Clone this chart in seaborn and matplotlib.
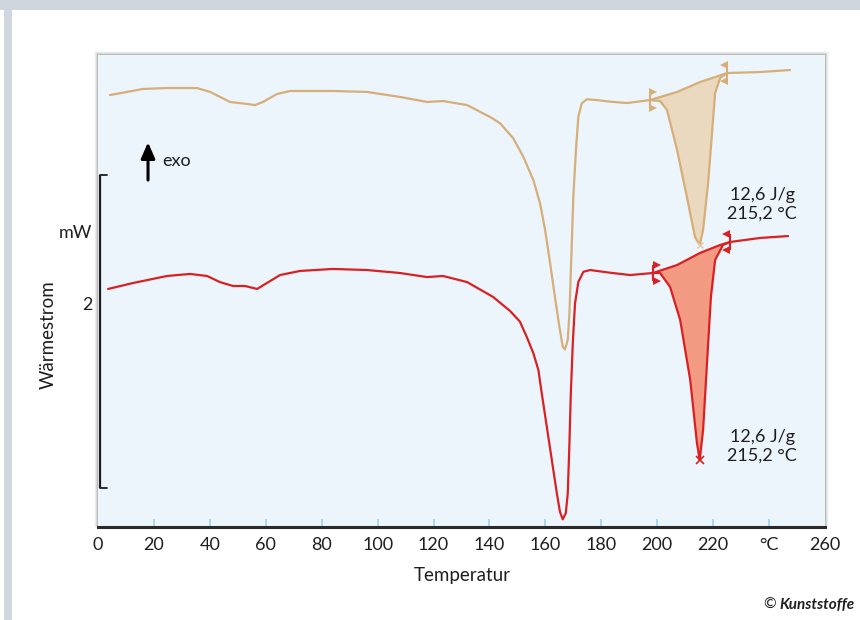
import numpy as np
import pandas as pd
import matplotlib
matplotlib.use("Agg")
import matplotlib.pyplot as plt
import matplotlib.transforms as mtransforms
from matplotlib.patches import Rectangle
import seaborn as sns

# ---------------- data ----------------
temp_tan = [4.3, 16.1, 24.7, 35.4, 40.1, 47.2, 53.3, 56.2, 59.0, 64.0, 68.7, 84.0,
            96.2, 108.0, 117.7, 123.4, 132.0, 140.2, 143.8, 148.5, 152.1, 155.7,
            158.1, 159.9, 161.7, 163.4, 165.0, 166.2, 167.0, 168.0, 168.6, 169.2,
            170.0, 171.0, 171.8, 173.0, 174.8, 178.4, 183.1, 189.2,
            197.4, 201.0, 203.5, 207.1, 210.6, 213.5, 215.2, 216.4, 218.2, 219.6,
            220.7, 222.5, 225.0, 236.8, 247.5]
flow_tan = [2.760, 2.799, 2.805, 2.805, 2.780, 2.716, 2.703, 2.696, 2.716, 2.767,
            2.786, 2.786, 2.780, 2.748, 2.716, 2.722, 2.696, 2.620, 2.580, 2.484,
            2.366, 2.217, 2.068, 1.898, 1.685, 1.472, 1.280, 1.152, 1.135, 1.195,
            1.366, 1.685, 2.111, 2.430, 2.622, 2.707, 2.733, 2.728, 2.718, 2.709,
            2.728, 2.722, 2.665, 2.409, 2.109, 1.853, 1.802, 1.898,
            2.198, 2.518, 2.773, 2.869, 2.901, 2.907, 2.920]

temp_red = [3.6, 12.5, 24.7, 32.9, 39.0, 43.6, 48.3, 52.6, 56.9, 60.4, 65.1, 72.2,
            84.0, 96.2, 108.0, 117.7, 123.4, 132.0, 141.3, 147.4, 150.9, 153.3,
            155.7, 157.5, 158.7, 160.5, 162.3, 164.1, 165.2, 166.2, 167.3, 168.0,
            168.6, 169.1, 169.8, 170.6, 171.8, 173.6, 176.0, 183.1,
            190.3, 198.5, 201.0, 204.6, 208.2, 211.8, 214.2, 215.2, 216.4,
            217.8, 219.2, 220.7, 223.5, 226.0, 236.8, 246.8]
flow_red = [1.521, 1.559, 1.604, 1.617, 1.604, 1.565, 1.540, 1.540, 1.521, 1.559,
            1.610, 1.636, 1.649, 1.642, 1.623, 1.597, 1.604, 1.565, 1.470, 1.380,
            1.312, 1.216, 1.110, 1.003, 0.854, 0.641, 0.428, 0.215, 0.098, 0.049,
            0.088, 0.215, 0.535, 0.854, 1.174, 1.429, 1.567, 1.631, 1.642, 1.625,
            1.610, 1.623, 1.623, 1.534, 1.323, 0.939, 0.537,
            0.428, 0.620, 1.048, 1.470, 1.706, 1.802, 1.821, 1.847, 1.859]

# integration baselines of the peak at 215 °C
base_tan_T = [197.4, 207.1, 215.3, 225.0]
base_tan_y = [2.728, 2.780, 2.843, 2.901]
base_red_T = [198.5, 207.1, 215.3, 222.5, 226.0]
base_red_y = [1.623, 1.674, 1.751, 1.802, 1.821]

peak_T = 215.2
peak_tan = 1.802
peak_red = 0.428
peak_text = ["12,6 J/g", "215,2 °C"]

scale_bar = [0.25, 2.25]          # 2 mW scale bar
scale_labels = ["mW", "2"]
x_ticks = [0, 20, 40, 60, 80, 100, 120, 140, 160, 180, 200, 220, 240, 260]
x_ticklabels = ["0", "20", "40", "60", "80", "100", "120", "140", "160", "180",
                "200", "220", "°C", "260"]

# ---------------- style ----------------
sns.set_theme(style="white")
plt.rcParams['font.family'] = ['Lato', 'DejaVu Sans']

TAN = "#d5ae79"
TAN_FILL = "#ead9bf"
RED = "#d92123"
RED_FILL = "#f29a82"
PANEL = "#edf5fc"
INK = "#1e1e1e"

W, H = 860, 620
fig = plt.figure(figsize=(8.6, 6.2), dpi=100)
fig.patch.set_facecolor("white")

# outer grey frame of the page
fig.patches.append(Rectangle((0, 1 - 10 / H), 1, 10 / H, transform=fig.transFigure,
                             facecolor="#cfd6de", edgecolor="none", zorder=-3))
fig.patches.append(Rectangle((4 / W, 0), 8 / W, 1 - 10 / H, transform=fig.transFigure,
                             facecolor="#cfd6de", edgecolor="none", zorder=-3))

ax_l, ax_r, ax_t, ax_b = 98, 825, 55, 527
ax = fig.add_axes([ax_l / W, 1 - ax_b / H, (ax_r - ax_l) / W, (ax_b - ax_t) / H])
ax.set_facecolor(PANEL)
ax.set_zorder(1)

# drop shadow around the panel
for i, a in enumerate([0.13, 0.08, 0.05, 0.025]):
    d = i + 1
    fig.patches.append(Rectangle(((ax_l - d) / W, 1 - ax_b / H),
                                 (ax_r - ax_l + 2 * d) / W, (ax_b - ax_t + d) / H,
                                 transform=fig.transFigure, facecolor="black", alpha=a,
                                 edgecolor="none", zorder=-1))

df_tan = pd.DataFrame({"T": temp_tan, "q": flow_tan})
df_red = pd.DataFrame({"T": temp_red, "q": flow_red})


def peak_fill(temps, flows, bT, by, fc):
    temps = np.asarray(temps)
    flows = np.asarray(flows)
    m = (temps >= bT[0]) & (temps <= bT[-1])
    px = np.concatenate([temps[m], np.asarray(bT)[::-1]])
    py = np.concatenate([flows[m], np.asarray(by)[::-1]])
    ax.fill(px, py, facecolor=fc, edgecolor="none", zorder=2)


peak_fill(temp_tan, flow_tan, base_tan_T, base_tan_y, TAN_FILL)
peak_fill(temp_red, flow_red, base_red_T, base_red_y, RED_FILL)

for d, c in [(df_tan, TAN), (df_red, RED)]:
    sns.lineplot(data=d, x="T", y="q", ax=ax, color=c, linewidth=1.6,
                 estimator=None, sort=False, zorder=3)
sns.lineplot(x=base_tan_T, y=base_tan_y, ax=ax, color=TAN, linewidth=1.6,
             estimator=None, sort=False, zorder=3)
sns.lineplot(x=base_red_T, y=base_red_y, ax=ax, color=RED, linewidth=1.6,
             estimator=None, sort=False, zorder=3)


def limit_markers(bT, by, col):
    for (t, y, mk, dx) in [(bT[0], by[0], ">", 2.5), (bT[-1], by[-1], "<", -2.5)]:
        ax.plot([t], [y], marker="|", markersize=11, markeredgewidth=1.5,
                color=col, zorder=4)
        for dy in (5.5, -5.5):
            tr = mtransforms.offset_copy(ax.transData, fig=fig, x=dx, y=dy, units="points")
            ax.plot([t], [y], marker=mk, markersize=5.5, color=col,
                    markeredgewidth=0, transform=tr, zorder=4)


limit_markers(base_tan_T, base_tan_y, TAN)
limit_markers(base_red_T, base_red_y, RED)

ax.plot([peak_T], [peak_tan], marker="x", markersize=5, markeredgewidth=1.0,
        color="#e4c9a2", zorder=4)
ax.plot([peak_T], [peak_red], marker="x", markersize=5.5, markeredgewidth=1.2,
        color=RED, zorder=4)

txt = "\n".join(peak_text)
ax.text(237.5, 2.064, txt, ha="center", va="center", fontsize=13,
        color=INK, linespacing=1.2, zorder=5)
ax.text(237.5, 0.518, txt, ha="center", va="center", fontsize=13,
        color=INK, linespacing=1.2, zorder=5)

# axes
ax.set_xlim(0, 260)
ax.set_ylim(0, 3.016)
ax.set_xticks(x_ticks)
ax.set_xticklabels(x_ticklabels)
ax.set_yticks([])
ax.set_xlabel("")
ax.set_ylabel("")
for s in ["top", "left", "right"]:
    ax.spines[s].set_visible(False)
ax.spines["bottom"].set_color("#2a2a2a")
ax.spines["bottom"].set_linewidth(2.2)
ax.spines["bottom"].set_zorder(6)
ax.tick_params(axis="x", direction="in", length=6, width=1.3, color="#a6d3ee",
               labelsize=13, labelcolor=INK, pad=7, bottom=True)
xt = ax.xaxis.get_major_ticks()
xt[0].tick1line.set_visible(False)
xt[-1].tick1line.set_visible(False)

# scale bar (2 mW)
bl = mtransforms.blended_transform_factory(ax.transAxes, ax.transData)
ax.plot([0.003, 0.003], scale_bar, color=INK, linewidth=1.6, transform=bl,
        clip_on=False, zorder=6, solid_capstyle="butt")
for yv in scale_bar:
    ax.plot([0.003, 0.013], [yv, yv], color=INK, linewidth=1.3, transform=bl,
            clip_on=False, zorder=6)
ax.text(-0.008, 1.879, scale_labels[0], transform=bl, ha="right", va="center",
        fontsize=13, color=INK)
ax.text(-0.008, 1.419, scale_labels[1], transform=bl, ha="right", va="center",
        fontsize=13, color=INK)

# exo arrow
ax.annotate("", xy=(0.0688, 0.815), xytext=(0.0688, 0.735), xycoords="axes fraction",
            textcoords="axes fraction",
            arrowprops=dict(arrowstyle="-|>,head_length=0.8,head_width=0.35",
                            color="black", linewidth=2.2, shrinkA=0, shrinkB=0))
ax.text(0.088, 0.775, "exo", transform=ax.transAxes, ha="left", va="center",
        fontsize=13, color=INK)

# labels
fig.text(48 / W, 1 - 335 / H, "Wärmestrom", rotation=90, ha="center", va="center",
         fontsize=13.5, color=INK)
fig.text(462 / W, 1 - 576 / H, "Temperatur", ha="center", va="center",
         fontsize=13.5, color=INK)
fig.text(770 / W, 1 - 605 / H, "©", ha="center", va="center", fontsize=11, color=INK)
fig.text(779 / W, 1 - 605 / H, "Kunststoffe", ha="left", va="center", fontsize=11,
         fontweight="bold", fontstyle="italic", color=INK)

fig.savefig("out.png", dpi=100, facecolor="white")
